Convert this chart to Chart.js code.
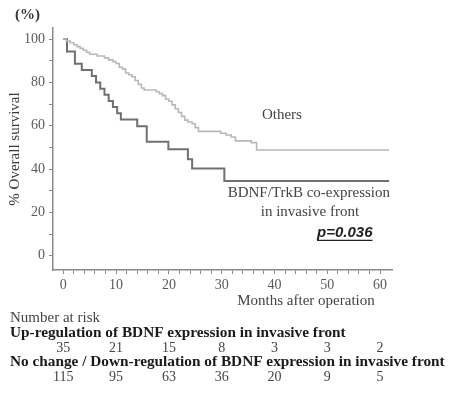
<!DOCTYPE html>
<html>
<head>
<meta charset="utf-8">
<script src="https://cdn.jsdelivr.net/npm/chart.js@4.4.0/dist/chart.umd.min.js"></script>
<style>
  html, body { margin: 0; padding: 0; background: #fff; }
  #wrap { width: 449px; height: 401px; }
</style>
</head>
<body>
<div id="wrap"><canvas id="km"></canvas></div>
<script>
const months = [0, 10, 20, 30, 40, 50, 60];
const survivalTicks = [0, 20, 40, 60, 80, 100];

// BDNF/TrkB co-expression in invasive front
const coExprTime = [0, 0.7, 2.2, 3.5, 5.4, 6.2, 7.0, 7.8, 8.6, 9.4, 10.2, 10.9, 14.0, 15.8, 19.9, 23.6, 24.4, 30.5, 61.7];
const coExprSurv = [100, 94.3, 88.6, 85.7, 82.9, 80.0, 77.1, 74.3, 71.4, 68.6, 65.7, 62.9, 59.8, 52.6, 49.1, 44.5, 40.3, 34.5, 34.5];

// Others
const othersTime = [0, 0.6, 1.3, 2.0, 2.6, 3.2, 3.8, 4.4, 5.0, 6.4, 7.8, 8.6, 9.4, 10.0, 10.6, 11.2, 11.8, 12.4, 13.0, 13.6, 14.2, 14.8, 15.3, 17.6, 18.2, 18.8, 19.4, 20.0, 20.6, 21.2, 21.8, 22.4, 23.0, 23.6, 24.4, 25.0, 25.6, 29.8, 30.8, 31.8, 32.6, 35.6, 36.6, 61.7];
const othersSurv = [100, 99.1, 98.3, 97.4, 96.5, 95.7, 94.8, 93.9, 93.0, 92.2, 91.3, 90.4, 89.6, 88.7, 87.0, 86.1, 84.3, 83.5, 82.6, 80.9, 79.1, 77.4, 76.5, 75.7, 74.8, 73.9, 72.2, 71.3, 69.6, 67.8, 66.1, 64.3, 62.6, 61.7, 60.9, 59.1, 57.4, 56.5, 55.7, 54.8, 53.0, 52.2, 48.8, 48.8];

// number at risk
const riskUp = [35, 21, 15, 8, 3, 3, 2];
const riskOther = [115, 95, 63, 36, 20, 9, 5];

const serif = 'Liberation Serif';
const toPoints = (t, s) => t.map((v, i) => ({ x: v, y: s[i] }));

// minor ticks every 2 months / 10 %
const minorX = [];
for (let m = months[0]; m <= months[months.length - 1]; m += 2) minorX.push({ value: m });
const minorY = [];
for (let p = 0; p <= 100; p += 10) minorY.push({ value: p });

const riskTable = {
  id: 'riskTable',
  afterDraw(chart) {
    const { ctx, scales: { x, y } } = chart;
    ctx.save();
    ctx.textBaseline = 'middle';

    // labels inside plot
    ctx.fillStyle = '#444';
    ctx.font = `15px "${serif}"`;
    ctx.textAlign = 'center';
    ctx.fillText('Others', x.getPixelForValue(41.4), y.getPixelForValue(65));
    ctx.fillText('BDNF/TrkB co-expression', x.getPixelForValue(46.5), y.getPixelForValue(28.9));
    ctx.fillText('in invasive front', x.getPixelForValue(46.7), y.getPixelForValue(20.2));

    ctx.fillStyle = '#222';
    ctx.font = 'italic bold 15px "Liberation Sans"';
    const px = x.getPixelForValue(53.3);
    const py = y.getPixelForValue(10.5);
    ctx.fillText('p=0.036', px, py);
    const w = ctx.measureText('p=0.036').width;
    ctx.strokeStyle = '#222';
    ctx.lineWidth = 1.2;
    ctx.beginPath();
    ctx.moveTo(px - w / 2, py + 7.5);
    ctx.lineTo(px + w / 2, py + 7.5);
    ctx.stroke();

    // (%) header
    ctx.fillStyle = '#333';
    ctx.font = `bold 15px "${serif}"`;
    ctx.fillText('(%)', 27.5, 15);

    // x axis title
    ctx.fillStyle = '#444';
    ctx.font = `15px "${serif}"`;
    ctx.fillText('Months after operation', 306, 301);

    // number at risk table
    ctx.textAlign = 'left';
    ctx.fillText('Number at risk', 10, 318);
    ctx.fillStyle = '#1a1a1a';
    ctx.font = `bold 15.3px "${serif}"`;
    ctx.fillText('Up-regulation of BDNF expression in invasive front', 10, 333);
    ctx.fillText('No change / Down-regulation of BDNF expression in invasive front', 10, 362);

    ctx.fillStyle = '#444';
    ctx.font = `14px "${serif}"`;
    ctx.textAlign = 'center';
    months.forEach((m, i) => {
      const mx = x.getPixelForValue(m);
      ctx.fillText(String(riskUp[i]), mx, 348);
      ctx.fillText(String(riskOther[i]), mx, 377);
    });
    ctx.restore();
  }
};

new Chart(document.getElementById('km'), {
  type: 'line',
  data: {
    datasets: [
      {
        label: 'Others',
        data: toPoints(othersTime, othersSurv),
        borderColor: '#b8b8b8',
        borderWidth: 1.6,
        stepped: true,
        pointRadius: 0,
        fill: false,
      },
      {
        label: 'BDNF/TrkB co-expression in invasive front',
        data: toPoints(coExprTime, coExprSurv),
        borderColor: '#707070',
        borderWidth: 2,
        stepped: true,
        pointRadius: 0,
        fill: false,
      },
    ],
  },
  options: {
    responsive: true,
    maintainAspectRatio: false,
    animation: false,
    layout: { padding: { top: 28, right: 57, bottom: 111, left: 0 } },
    plugins: {
      legend: { display: false },
      tooltip: { enabled: false },
    },
    scales: {
      x: {
        type: 'linear',
        min: -1.95,
        max: 62.25,
        afterBuildTicks: (s) => { s.ticks = minorX.map((t) => ({ ...t })); },
        afterFit: (s) => { s.height = 20; },
        ticks: {
          autoSkip: false,
          maxRotation: 0,
          padding: 3,
          color: '#5a5a5a',
          font: { family: serif, size: 14 },
          callback: (v) => (months.includes(v) ? v : ''),
        },
        grid: { drawOnChartArea: false, tickLength: 4, color: '#8a8a8a' },
        border: { color: '#8a8a8a', width: 1.5 },
      },
      y: {
        type: 'linear',
        min: -6.6,
        max: 105.1,
        afterBuildTicks: (s) => { s.ticks = minorY.map((t) => ({ ...t })); },
        afterFit: (s) => { s.width = 53; },
        ticks: {
          autoSkip: false,
          padding: 4,
          color: '#5a5a5a',
          font: { family: serif, size: 14 },
          callback: (v) => (survivalTicks.includes(v) ? v : ''),
        },
        grid: { drawOnChartArea: false, tickLength: 4, color: '#8a8a8a' },
        border: { color: '#8a8a8a', width: 1.5 },
        title: {
          display: true,
          text: '% Overall survival',
          color: '#3a3a3a',
          font: { family: serif, size: 15 },
          padding: { top: 6, bottom: 0 },
        },
      },
    },
  },
  plugins: [riskTable],
});
</script>
</body>
</html>
